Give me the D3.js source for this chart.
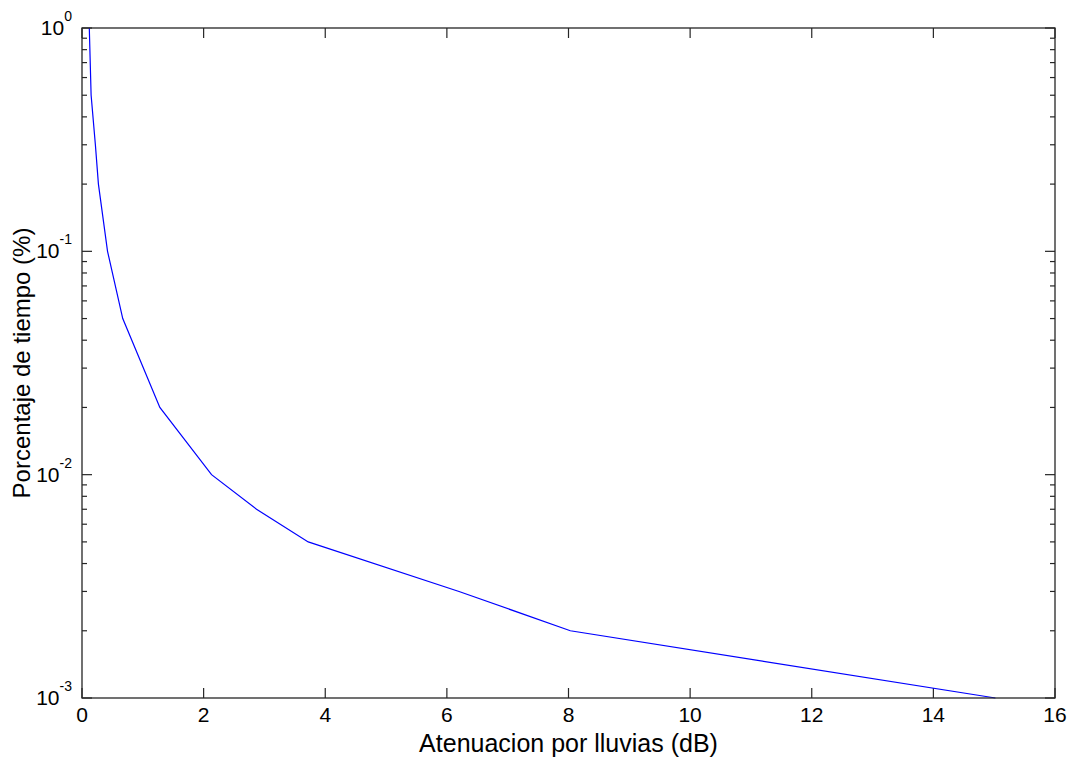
<!DOCTYPE html>
<html lang="es">
<meta charset="utf-8">
<head>
    <title>Atenuacion por lluvias</title>
    <script src="https://d3js.org/d3.v7.min.js"></script>
    <style>
        body { margin: 0; background: #fff; }
        text { font-family: "Liberation Sans", Arial, sans-serif; fill: #000; }
        .frame { fill: none; stroke: #262626; stroke-width: 1.3; }
    </style>
</head>
<body>
<div id="chart"></div>
<script>
    // rain attenuation (dB) exceeded for a given percentage of time
    const attenuation = [0.12, 0.15, 0.22, 0.27, 0.42, 0.67, 1.28, 2.13, 2.87, 3.72, 6.2, 8.03, 15.02];
    const percentTime = [1, 0.5, 0.3, 0.2, 0.1, 0.05, 0.02, 0.01, 0.007, 0.005, 0.003, 0.002, 0.001];
    const xTicks = [0, 2, 4, 6, 8, 10, 12, 14, 16];
    const yDecades = [-3, -2, -1, 0];

    let W = 1071, H = 758;
    let margin = {top: 28, right: 16, bottom: 60, left: 82}
        , width = W - margin.left - margin.right
        , height = H - margin.top - margin.bottom;

    let x = d3.scaleLinear().domain([0, 16]).range([0, width]);
    let y = d3.scaleLog().domain([1e-3, 1]).range([height, 0]);

    let svg = d3.select("#chart").append("svg")
        .attr("width", W)
        .attr("height", H);
    let g = svg.append("g")
        .attr("transform", "translate(" + margin.left + "," + margin.top + ")");

    // minor log ticks 2..9 in each decade
    let minor = [];
    yDecades.slice(0, -1).forEach(function(e) {
        for (let k = 2; k <= 9; k++) minor.push(k * Math.pow(10, e));
    });
    let majorY = yDecades.map(e => Math.pow(10, e));

    let tickColor = "#262626";

    // x ticks, inward on bottom and top
    xTicks.forEach(function(t) {
        [[height, height - 10], [0, 10]].forEach(function(p) {
            g.append("line")
                .attr("x1", x(t)).attr("x2", x(t))
                .attr("y1", p[0]).attr("y2", p[1])
                .attr("stroke", tickColor).attr("stroke-width", 1.2);
        });
        g.append("text")
            .attr("x", x(t))
            .attr("y", height + 24)
            .attr("text-anchor", "middle")
            .style("font-size", "21px")
            .text(t);
    });

    // y ticks, inward on left and right
    function yTick(v, len) {
        [[0, len], [width, width - len]].forEach(function(p) {
            g.append("line")
                .attr("x1", p[0]).attr("x2", p[1])
                .attr("y1", y(v)).attr("y2", y(v))
                .attr("stroke", tickColor).attr("stroke-width", 1.2);
        });
    }
    minor.forEach(v => yTick(v, 5));
    majorY.forEach(v => yTick(v, 10));

    yDecades.forEach(function(e) {
        let t = g.append("text")
            .attr("x", -10)
            .attr("y", y(Math.pow(10, e)) + 7)
            .attr("text-anchor", "end")
            .style("font-size", "21px");
        t.append("tspan").text("10");
        t.append("tspan")
            .attr("dy", -14)
            .style("font-size", "14px")
            .text(e);
    });

    // data line
    let line = d3.line()
        .x(function(d, i) { return x(attenuation[i]); })
        .y(function(d) { return y(d); });

    g.append("path")
        .datum(percentTime)
        .attr("d", line)
        .attr("fill", "none")
        .attr("stroke", "#0000ff")
        .attr("stroke-width", 1.2);

    g.append("rect")
        .attr("class", "frame")
        .attr("x", 0).attr("y", 0)
        .attr("width", width).attr("height", height);

    // axis labels
    svg.append("text")
        .attr("x", margin.left + width / 2)
        .attr("y", 752)
        .attr("text-anchor", "middle")
        .style("font-size", "25px")
        .text("Atenuacion por lluvias (dB)");

    svg.append("text")
        .attr("transform", "translate(30," + (margin.top + height / 2) + ") rotate(-90)")
        .attr("text-anchor", "middle")
        .style("font-size", "24px")
        .text("Porcentaje de tiempo (%)");
</script>
</body>
</html>
